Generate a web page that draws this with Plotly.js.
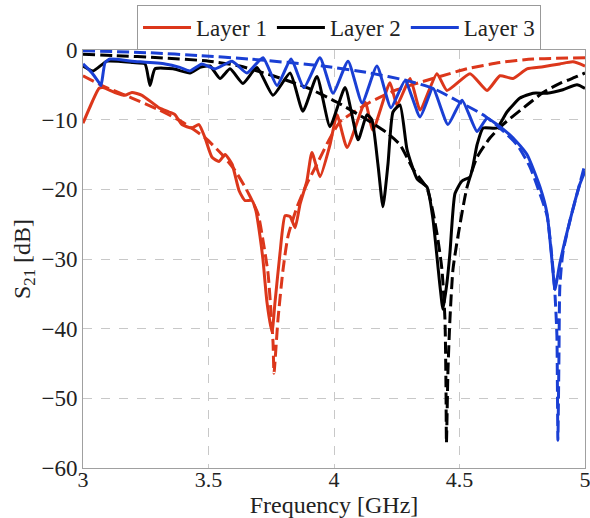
<!DOCTYPE html>
<html>
<head>
<meta charset="utf-8">
<script src="https://cdn.plot.ly/plotly-3.0.1.min.js"></script>
<style>html,body{margin:0;padding:0;background:#fff;}#chart{width:590px;height:518px;}</style>
</head>
<body>
<div id="chart"></div>
<script>
// Layer 1 (red)
const l1SimF = [3.000,3.076,3.195,3.303,3.394,3.486,3.554,3.606,3.661,3.697,3.717,3.737,3.749,3.757,3.761,3.769,3.777,3.797,3.817,3.853,3.892,3.932,3.976,4.024,4.084,4.143,4.251,4.394,4.530,4.661,4.793,5.000];
const l1SimS = [-3.7,-5.1,-6.9,-8.6,-10.3,-12.6,-15.0,-17.3,-20.7,-23.5,-27.3,-32.0,-37.6,-41.9,-46.4,-42.6,-38.6,-31.5,-26.7,-22.5,-19.2,-16.4,-13.2,-10.3,-8.8,-7.5,-5.7,-4.1,-2.7,-1.8,-1.3,-1.1];
const l1MeasF = [3.000,3.036,3.064,3.080,3.127,3.167,3.195,3.235,3.303,3.343,3.367,3.394,3.434,3.462,3.486,3.514,3.542,3.566,3.594,3.622,3.645,3.673,3.689,3.705,3.717,3.733,3.753,3.765,3.785,3.805,3.825,3.845,3.865,3.892,3.912,3.944,3.984,4.012,4.052,4.124,4.155,4.223,4.251,4.303,4.343,4.410,4.450,4.542,4.610,4.661,4.713,4.769,4.833,4.900,4.952,5.000];
const l1MeasS = [-10.5,-7.5,-5.5,-5.4,-6.1,-6.5,-6.1,-6.5,-8.3,-8.9,-9.3,-10.7,-11.2,-10.7,-12.6,-15.4,-16.0,-15.0,-16.4,-20.2,-21.6,-21.6,-23.1,-26.7,-30.1,-36.2,-40.5,-36.2,-29.1,-23.8,-23.9,-25.5,-22.1,-18.8,-14.7,-18.2,-13.6,-9.3,-14.0,-7.5,-11.5,-4.7,-7.9,-4.1,-8.6,-3.4,-5.8,-3.4,-5.8,-3.7,-4.1,-2.7,-2.4,-2.0,-1.7,-2.3];

// Layer 2 (black)
const l2SimF = [3.000,3.127,3.303,3.502,3.625,3.757,3.892,4.012,4.131,4.211,4.263,4.315,4.371,4.410,4.430,4.442,4.446,4.448,4.454,4.462,4.474,4.494,4.530,4.570,4.622,4.673,4.769,4.833,4.900,4.968,5.000];
const l2SimS = [-0.6,-0.8,-1.1,-1.6,-2.3,-3.7,-5.4,-7.5,-10.0,-11.9,-13.6,-17.1,-19.9,-26.3,-31.5,-38.6,-47.9,-56.4,-46.1,-38.6,-31.5,-26.7,-19.7,-15.4,-12.6,-10.7,-7.9,-6.1,-4.8,-3.8,-3.3];
const l2MeasF = [3.000,3.040,3.096,3.199,3.247,3.267,3.287,3.359,3.426,3.466,3.506,3.546,3.586,3.637,3.693,3.757,3.825,3.876,3.932,3.984,4.044,4.096,4.131,4.151,4.175,4.195,4.215,4.235,4.263,4.291,4.331,4.371,4.394,4.422,4.434,4.450,4.462,4.482,4.510,4.542,4.570,4.594,4.649,4.689,4.741,4.793,4.849,4.912,4.968,5.000];
const l2MeasS = [-2.3,-3.0,-1.6,-1.8,-2.0,-5.1,-2.7,-2.7,-3.3,-2.5,-2.3,-4.1,-2.7,-4.8,-2.5,-6.5,-3.3,-8.8,-3.8,-11.0,-5.4,-12.9,-9.3,-10.0,-16.4,-22.5,-16.4,-8.9,-7.9,-14.3,-18.5,-19.7,-24.2,-33.8,-37.2,-33.4,-29.1,-20.6,-18.8,-18.2,-13.6,-11.2,-11.2,-8.9,-6.9,-6.2,-6.2,-5.7,-5.0,-5.5];

// Layer 3 (blue)
const l3SimF = [3.000,3.267,3.466,3.665,3.956,4.143,4.291,4.394,4.502,4.594,4.661,4.729,4.781,4.821,4.849,4.869,4.880,4.888,4.890,4.892,4.896,4.900,4.912,4.940,4.968,5.000];
const l3SimS = [-0.1,-0.4,-0.8,-1.3,-2.3,-3.3,-4.4,-5.5,-7.5,-9.3,-11.2,-13.6,-16.8,-20.7,-23.8,-30.1,-34.8,-40.9,-47.9,-56.0,-44.7,-33.8,-29.1,-24.5,-20.7,-16.4];
const l3MeasF = [3.000,3.036,3.064,3.072,3.088,3.108,3.195,3.327,3.386,3.426,3.474,3.526,3.594,3.653,3.717,3.773,3.829,3.880,3.944,3.996,4.056,4.112,4.171,4.227,4.283,4.343,4.394,4.454,4.510,4.570,4.610,4.649,4.713,4.769,4.821,4.849,4.873,4.880,4.900,4.940,4.980,5.000];
const l3MeasS = [-2.0,-3.3,-4.7,-5.1,-1.8,-1.3,-1.6,-2.0,-2.5,-3.0,-2.0,-2.7,-1.6,-3.3,-1.1,-5.1,-1.3,-5.4,-1.1,-6.2,-1.6,-7.6,-2.3,-8.3,-4.4,-9.6,-5.5,-10.7,-7.2,-11.7,-9.8,-10.7,-12.6,-15.0,-19.7,-23.5,-32.0,-34.4,-30.6,-24.5,-19.2,-17.4];

const names = ['Layer 1','Layer 2','Layer 3'];
const colors = ['#dc371b','#000000','#1a3fd4'];
const dashPat = '12px,5px';

const sets = [
  [l1SimF,l1SimS,l1MeasF,l1MeasS],
  [l2SimF,l2SimS,l2MeasF,l2MeasS],
  [l3SimF,l3SimS,l3MeasF,l3MeasS]
];
const traces = [];
sets.forEach((s,i)=>{
  traces.push({x:s[0],y:s[1],type:'scatter',mode:'lines',name:names[i]+' sim',showlegend:false,
    line:{color:colors[i],width:3,dash:dashPat,shape:'spline',smoothing:0.6}});
  traces.push({x:s[2],y:s[3],type:'scatter',mode:'lines',name:names[i],showlegend:true,
    line:{color:colors[i],width:3,shape:'spline',smoothing:0.5}});
});
const font = 'Liberation Serif, Times New Roman, serif';
const layout = {
  width:590,height:518,
  margin:{l:83,r:5,t:44,b:50},
  paper_bgcolor:'#fff',plot_bgcolor:'#fff',
  font:{family:font,size:23,color:'#222'},
  showlegend:true,
  legend:{orientation:'h',x:0.51,xanchor:'center',y:1.0,yanchor:'bottom',
    bgcolor:'#fff',bordercolor:'#999',borderwidth:1,font:{family:font,size:23,color:'#222'},
    tracegroupgap:0,itemwidth:48},
  xaxis:{range:[3,5],tickvals:[3,3.5,4,4.5,5],ticktext:['3','3.5','4','4.5','5'],
    showgrid:true,gridcolor:'#c8c8c8',griddash:'dash',gridwidth:1,
    showline:true,linecolor:'#a0a0a0',linewidth:1,mirror:true,ticks:'',zeroline:false,
    ticklabelstandoff:-8,ticklabeloverflow:'allow',
    tickfont:{family:font,size:22,color:'#222'},
    title:{text:'Frequency [GHz]',font:{family:font,size:24,color:'#222'},standoff:0}},
  yaxis:{range:[-60,0],tickvals:[0,-10,-20,-30,-40,-50,-60],
    showgrid:true,gridcolor:'#c8c8c8',griddash:'dash',gridwidth:1,
    showline:true,linecolor:'#a0a0a0',linewidth:1,mirror:true,ticks:'',zeroline:false,
    tickfont:{family:font,size:23,color:'#222'},
    title:{text:'S<sub>21</sub> [dB]',font:{family:font,size:24,color:'#222'},standoff:4}}
};
Plotly.newPlot('chart',traces,layout,{displayModeBar:false,staticPlot:true});
</script>
</body>
</html>
